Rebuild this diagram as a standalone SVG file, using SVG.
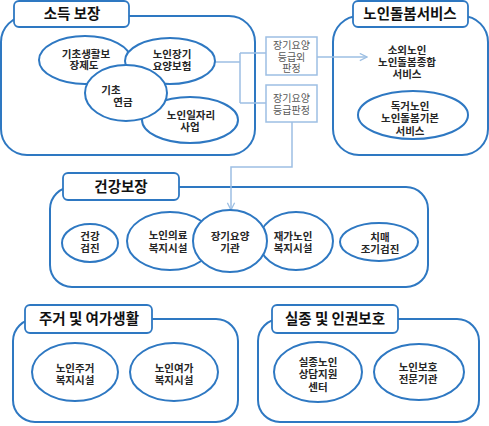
<svg xmlns="http://www.w3.org/2000/svg" width="489" height="426" viewBox="0 0 489 426">
<style>
.panel{fill:#fff;stroke:#2E78C2;stroke-width:2}
.tbox{fill:#fff;stroke:#2E78C2;stroke-width:1.8}
.ell{fill:#fff;stroke:#2E78C2;stroke-width:2}
.gbox{fill:#fff;stroke:#9DBFE3;stroke-width:1.5}
.con{fill:none;stroke:#9DBFE3;stroke-width:1.5}
text{font-family:"Noto Sans CJK KR","Noto Sans",sans-serif;text-anchor:middle}
.title{font-size:14.5px;font-weight:bold;fill:#111}
.lbl{font-size:10.5px;font-weight:bold;fill:#262626}
.glbl{font-size:10px;fill:#595959}
</style>
<defs>
<marker id="arr" viewBox="0 0 10 10" refX="9" refY="5" markerWidth="9" markerHeight="9" markerUnits="userSpaceOnUse" orient="auto">
<path d="M1,1 L9,5 L1,9" fill="none" stroke="#9DBFE3" stroke-width="1.4"/>
</marker>
</defs>

<g id="panel-income">
<rect class="panel" x="1" y="16" width="254" height="139" rx="26"/>
<rect class="tbox" x="14" y="1" width="115" height="26" rx="5"/>
<text class="title" x="72" y="19">소득 보장</text>
</g>
<g id="panel-care">
<rect class="panel" x="333" y="16" width="155" height="139" rx="26"/>
<rect class="tbox" x="353" y="1" width="115" height="26" rx="5"/>
<text class="title" x="410" y="19">노인돌봄서비스</text>
</g>
<g id="panel-health">
<rect class="panel" x="50" y="187" width="378" height="100" rx="22"/>
<rect class="tbox" x="63" y="173" width="116" height="27" rx="5"/>
<text class="title" x="121" y="192">건강보장</text>
</g>
<g id="panel-housing">
<rect class="panel" x="13" y="319" width="225" height="103" rx="22"/>
<rect class="tbox" x="25" y="305" width="127" height="28" rx="5"/>
<text class="title" x="89" y="324">주거 및 여가생활</text>
</g>
<g id="panel-rights">
<rect class="panel" x="258" y="319" width="221" height="103" rx="22"/>
<rect class="tbox" x="272" y="305" width="126" height="28" rx="5"/>
<text class="title" x="335" y="324">실종 및 인권보호</text>
</g>

<g id="connectors">
<path class="con" d="M215,62 H240 M240,53 V103 M240,53 H266 M240,103 H266"/>
<path class="con" d="M317,57 H367" marker-end="url(#arr)"/>
<path class="con" d="M292,122 V167 H231 V210" marker-end="url(#arr)"/>
</g>

<g id="node-basic-living">
<ellipse class="ell" cx="85" cy="60" rx="46" ry="24"/>
<text class="lbl"><tspan x="86" y="58">기초생활보</tspan><tspan x="84" y="69">장제도</tspan></text>
</g>
<g id="node-ltc-insurance">
<ellipse class="ell" cx="170" cy="61" rx="45" ry="23"/>
<text class="lbl"><tspan x="172" y="58">노인장기</tspan><tspan x="172" y="70">요양보험</tspan></text>
</g>
<g id="node-jobs">
<ellipse class="ell" cx="190" cy="120" rx="48" ry="23"/>
<text class="lbl"><tspan x="191" y="119">노인일자리</tspan><tspan x="190" y="131">사업</tspan></text>
</g>
<g id="node-basic-pension">
<ellipse class="ell" cx="126" cy="93" rx="41" ry="28"/>
<text class="lbl"><tspan x="111" y="94">기초</tspan><tspan x="123" y="106">연금</tspan></text>
</g>

<g id="node-grade-out">
<rect class="gbox" x="266" y="37" width="51" height="38"/>
<text class="glbl"><tspan x="291.5" y="49">장기요양</tspan><tspan x="291.5" y="61">등급외</tspan><tspan x="291.5" y="72">판정</tspan></text>
</g>
<g id="node-grade">
<rect class="gbox" x="266" y="85" width="51" height="37"/>
<text class="glbl"><tspan x="291.5" y="102">장기요양</tspan><tspan x="291.5" y="114">등급판정</tspan></text>
</g>

<g id="node-comprehensive-care">
<text class="lbl"><tspan x="407" y="54">소외노인</tspan><tspan x="407" y="66">노인돌봄종합</tspan><tspan x="407" y="78">서비스</tspan></text>
</g>
<g id="node-basic-care">
<ellipse class="ell" cx="413" cy="115" rx="55" ry="24"/>
<text class="lbl"><tspan x="410" y="110">독거노인</tspan><tspan x="410" y="122">노인돌봄기본</tspan><tspan x="410" y="135">서비스</tspan></text>
</g>

<g id="node-checkup">
<ellipse class="ell" cx="90" cy="243" rx="28" ry="19"/>
<text class="lbl"><tspan x="90" y="240">건강</tspan><tspan x="90" y="252">검진</tspan></text>
</g>
<g id="node-medical-welfare">
<ellipse class="ell" cx="170" cy="241" rx="43" ry="29"/>
<text class="lbl"><tspan x="168" y="239">노인의료</tspan><tspan x="168" y="252">복지시설</tspan></text>
</g>
<g id="node-home-welfare">
<ellipse class="ell" cx="296" cy="241" rx="37" ry="29"/>
<text class="lbl"><tspan x="293" y="240">재가노인</tspan><tspan x="293" y="252">복지시설</tspan></text>
</g>
<g id="node-ltc-institution">
<ellipse class="ell" cx="230" cy="241" rx="37" ry="31"/>
<text class="lbl"><tspan x="230" y="240">장기요양</tspan><tspan x="230" y="252">기관</tspan></text>
</g>
<g id="node-dementia">
<ellipse class="ell" cx="379" cy="242" rx="39" ry="19"/>
<text class="lbl"><tspan x="380" y="241">치매</tspan><tspan x="380" y="253">조기검진</tspan></text>
</g>

<g id="node-housing-welfare">
<ellipse class="ell" cx="75" cy="372" rx="43" ry="29"/>
<text class="lbl"><tspan x="75" y="372">노인주거</tspan><tspan x="75" y="384">복지시설</tspan></text>
</g>
<g id="node-leisure-welfare">
<ellipse class="ell" cx="174" cy="372" rx="44" ry="29"/>
<text class="lbl"><tspan x="174" y="372">노인여가</tspan><tspan x="174" y="384">복지시설</tspan></text>
</g>
<g id="node-missing-center">
<ellipse class="ell" cx="318" cy="372" rx="44" ry="30"/>
<text class="lbl"><tspan x="318" y="366">실종노인</tspan><tspan x="318" y="378">상담지원</tspan><tspan x="318" y="391">센터</tspan></text>
</g>
<g id="node-protection-agency">
<ellipse class="ell" cx="419" cy="372" rx="45" ry="28"/>
<text class="lbl"><tspan x="418" y="371">노인보호</tspan><tspan x="418" y="383">전문기관</tspan></text>
</g>
</svg>
